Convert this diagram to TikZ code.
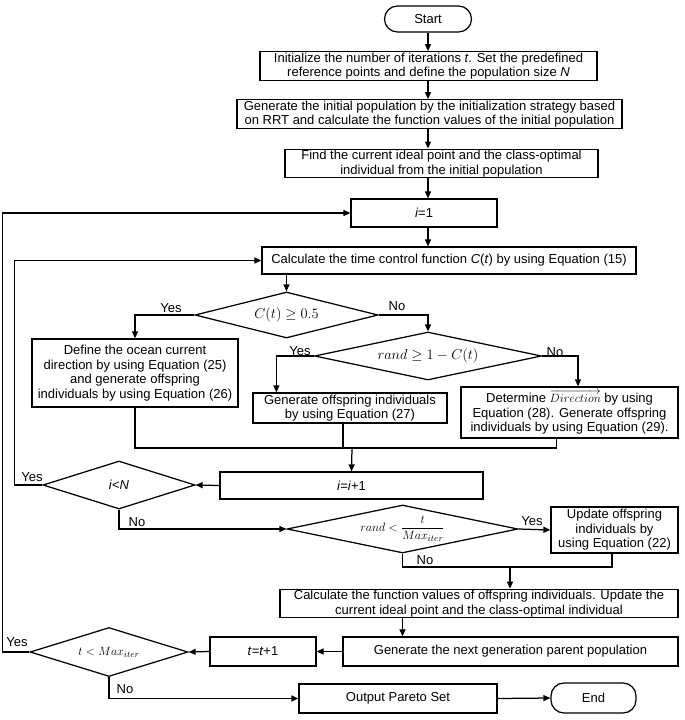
\documentclass[tikz,border=0pt]{standalone}
\usepackage{amsmath}
\usepackage{fontspec}
\setmainfont{Liberation Sans}
\usetikzlibrary{shapes.geometric,arrows.meta}

\begin{document}
\begin{tikzpicture}[x=1pt,y=-1pt,
    every node/.style={font=\fontsize{13}{14.5}\selectfont},
    box/.style={draw,line width=1.25pt,inner sep=1pt,align=center},
    term/.style={box,rounded corners=13pt},
    cond/.style={draw,diamond,line width=1.25pt,inner sep=0pt},
    bigmath/.style={font=\fontsize{14.5}{16}\selectfont},
    arr/.style={-{Triangle[length=7pt,width=6pt]},line width=1.25pt},
    line/.style={line width=1.25pt},
    lab/.style={inner sep=1pt}]
  \useasboundingbox (0,0) rectangle (685,720);

  % main column
  \node[term,minimum width=87pt,minimum height=26pt] (start) at (428,19) {Start};
  \node[box,minimum width=337pt,minimum height=28pt] (init) at (428.5,66)
    {Initialize the number of iterations \textit{t}. Set the predefined\\
     reference points and define the population size \textit{N}};
  \node[box,minimum width=385pt,minimum height=28pt] (gen) at (429.5,114)
    {Generate the initial population by the initialization strategy based\\
     on RRT and calculate the function values of the initial population};
  \node[box,minimum width=313pt,minimum height=27pt] (find) at (441.5,163.5)
    {Find the current ideal point and the class-optimal\\
     individual from the initial population};
  \node[box,minimum width=146pt,minimum height=28pt] (ione) at (424,213) {\textit{i}=1};
  \node[box,minimum width=374pt,minimum height=27pt] (calc) at (449,260.5)
    {Calculate the time control function \textit{C}(\textit{t}) by using Equation (15)};

  % decisions on C(t)
  \node[cond,bigmath,minimum width=183pt,minimum height=46pt,aspect=3.98] (dc) at (286.5,315) {$C(t)\geq 0.5$};
  \node[cond,bigmath,minimum width=227pt,minimum height=48pt,aspect=4.73] (dr) at (428,356) {$rand\geq 1-C(t)$};
  \node[box,minimum width=206pt,minimum height=68pt] (ocean) at (135,373)
    {Define the ocean current\\ direction by using Equation (25)\\
     and generate offspring\\ individuals by using Equation (26)};
  \node[box,minimum width=194pt,minimum height=30pt] (gen27) at (350,408)
    {Generate offspring individuals\\ by using Equation (27)};
  \node[box,minimum width=217pt,minimum height=51pt] (dir) at (569.5,412.5)
    {Determine $\overrightarrow{Direction}$ by using\\
     Equation (28). Generate offspring\\ individuals by using Equation (29).};

  % inner loop
  \node[box,minimum width=263pt,minimum height=27pt] (iinc) at (351.5,485.5) {\textit{i}=\textit{i}+1};
  \node[cond,minimum width=152pt,minimum height=48pt,aspect=3.17] (din) at (119,485) {\textit{i}<\textit{N}};
  \node[cond,minimum width=231pt,minimum height=48pt,aspect=4.81] (dm) at (402.5,529)
    {$rand<\dfrac{t}{Max_{iter}}$};
  \node[box,minimum width=127pt,minimum height=46pt] (upd) at (614.5,530)
    {Update offspring\\ individuals by\\ using Equation (22)};
  \node[box,minimum width=398pt,minimum height=27pt] (calc2) at (479,603.5)
    {Calculate the function values of offspring individuals. Update the\\
     current ideal point and the class-optimal individual};
  \node[box,minimum width=335pt,minimum height=29pt] (next) at (510.5,651.5)
    {Generate the next generation parent population};
  \node[box,minimum width=106pt,minimum height=29pt] (tinc) at (263,651.5) {\textit{t}=\textit{t}+1};
  \node[cond,minimum width=158pt,minimum height=49pt,aspect=3.22] (dt) at (109,652) {$t<Max_{iter}$};
  \node[box,minimum width=198pt,minimum height=29pt] (out) at (398,698.5) {Output Pareto Set};
  \node[term,minimum width=85pt,minimum height=30pt] (end) at (593.5,698) {End};

  % labels
  \node[lab] (y1) at (171,308) {Yes};
  \node[lab] (n1) at (397,306) {No};
  \node[lab] (y2) at (300,351) {Yes};
  \node[lab] (n2) at (555,352) {No};
  \node[lab] (y3) at (32,477) {Yes};
  \node[lab] (n3) at (137,522) {No};
  \node[lab] (y4) at (532,521) {Yes};
  \node[lab] (n4) at (425,560) {No};
  \node[lab] (y5) at (17,642) {Yes};
  \node[lab] (n5) at (125,689) {No};

  % connectors
  \draw[arr] (start.south) -- (start.south |- init.north);
  \draw[arr] (start.south |- init.south) -- (start.south |- gen.north);
  \draw[arr] (start.south |- gen.south) -- (start.south |- find.north);
  \draw[arr] (start.south |- find.south) -- (start.south |- ione.north);
  \draw[arr] (start.south |- ione.south) -- (start.south |- calc.north);
  \draw[arr] (calc.south -| dc.north) -- (dc.north);
  \draw[arr] (dc.west) -| (ocean.north);
  \draw[arr] (dc.east) -| (dr.north);
  \draw[arr] (dr.west) -| ([xshift=24pt]gen27.north west);
  \draw[arr] (dr.east) -| ([xshift=8.5pt]dir.north);

  \coordinate (m1) at (352,448);
  \draw[line] (ocean.south) |- (m1);
  \draw[line] ([xshift=-13pt]dir.south) |- (m1);
  \draw[line] ([xshift=-7pt]gen27.south) -- ([xshift=-7pt]gen27.south |- m1);
  \draw[arr] (m1) -- (iinc.north);

  \draw[arr] (iinc.west) -- (din.east);
  \draw[arr] (din.west) -- ++(-28,0) |- (calc.west);
  \draw[arr] (din.south) |- (dm.west);
  \draw[arr] (dm.east) -- (upd.west);

  \coordinate (m2) at (510,567);
  \draw[line] (dm.south) |- (m2);
  \draw[line] ([xshift=-2.5pt]upd.south) |- (m2);
  \draw[arr] (m2) -- (m2 |- calc2.north);
  \draw[arr] (calc2.south -| dm.south) -- (next.north -| dm.south);

  \draw[arr] (next.west) -- (tinc.east);
  \draw[arr] (tinc.west) -- (dt.east);
  \draw[arr] (dt.west) -- ++(-27,0) |- (ione.west);
  \draw[arr] (dt.south) |- (out.west);
  \draw[arr] (out.east) -- (end.west);
\end{tikzpicture}
\end{document}
